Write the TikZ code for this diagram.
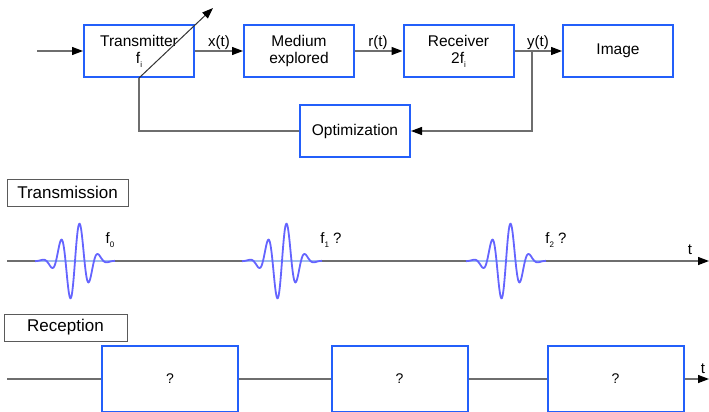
\documentclass[tikz,border=0pt]{standalone}
\usepackage{fontspec}
\setmainfont{Liberation Sans}
\usetikzlibrary{arrows.meta}
\definecolor{boxblue}{RGB}{35,95,250}
\definecolor{wavecol}{RGB}{100,100,255}
\definecolor{basecol}{RGB}{160,190,235}
\definecolor{linegray}{RGB}{110,110,110}
\definecolor{taggray}{RGB}{90,90,90}
\newcommand\sbs[1]{\raisebox{-4pt}{\fontsize{8}{8}\selectfont #1}}
\tikzset{
  blk/.style={draw=boxblue, fill=white, line width=2, minimum width=110, minimum height=52, inner sep=0, align=center, font=\fontsize{15.5}{17}\selectfont},
  rbox/.style={draw=boxblue, fill=white, line width=2, minimum width=136, minimum height=66, inner sep=0, font=\fontsize{14}{16}\selectfont},
  conn/.style={draw=linegray, line width=1.3},
  arr/.style={conn, -{Triangle[length=11,width=8,color=black]}},
  lbl/.style={font=\fontsize{15}{17}\selectfont, inner sep=1},
  tag/.style={draw=taggray, line width=1, inner sep=0, font=\fontsize{17}{20}\selectfont},
  wave/.style={draw=wavecol, line width=1.8},
}
\begin{document}
\begin{tikzpicture}[x=1pt,y=-1pt]
\useasboundingbox (0,0) rectangle (709,412);
% top block diagram
\node[blk] (tx) at (139,51) {Transmitter\\f\sbs{i}};
\node[blk] (med) at (299,51) {Medium\\explored};
\node[blk] (rec) at (458.5,51) {Receiver\\2f\sbs{i}};
\node[blk] (img) at (618,51) {Image};
\node[blk] (opt) at (355,131) {Optimization};
\coordinate (in) at (37,51);
\coordinate (dtip) at (213,8);
\coordinate (ytap) at (532,51);
\draw[arr] (in) -- (tx.west);
\draw[arr] (tx.east) -- (med.west);
\draw[arr] (med.east) -- (rec.west);
\draw[arr] (rec.east) -- (img.west);
\draw[arr, draw=black!80, line width=1] (tx.south) -- (dtip);
\draw[conn] (opt.west) -| (tx.south);
\draw[arr] (ytap) |- (opt.east);
\node[lbl] (lx) at (219,43) {x(t)};
\node[lbl] (lr) at (378,43) {r(t)};
\node[lbl] (ly) at (538,43) {y(t)};
% transmission
\node[tag, minimum width=121, minimum height=27] (ttx) at (67.5,192.5) {Transmission};
\coordinate (ax0) at (7,261);
\coordinate (ax1) at (709,261);
\draw[arr] (ax0) -- (ax1);
\node[lbl] (tlab) at (690,250) {t};
\foreach \c in {75,282,506} {
  \draw[basecol, line width=1.5] (\c-38,261) -- (\c+38,261);
  \draw[wave] plot[domain=-40:40, samples=200, smooth] ({\c+\x}, {261-40*exp(-(\x*\x)/306)*sin(360*(\x)/19)});
}
\node[lbl] (f0) at (110,240) {f\sbs{0}};
\node[lbl] (f1) at (331,240) {f\sbs{1} ?};
\node[lbl] (f2) at (556,240) {f\sbs{2} ?};
% reception
\node[tag, minimum width=123, minimum height=27] (trx) at (65.5,327.5) {Reception};
\node[rbox] (rb1) at (170,379) {?};
\node[rbox] (rb2) at (399.5,379) {?};
\node[rbox] (rb3) at (615.5,379) {?};
\coordinate (r0) at (7,379);
\coordinate (r1) at (709,379);
\draw[conn] (r0) -- (rb1.west);
\draw[conn] (rb1.east) -- (rb2.west);
\draw[conn] (rb2.east) -- (rb3.west);
\draw[arr] (rb3.east) -- (r1);
\node[lbl] (tlab2) at (703,369) {t};
\end{tikzpicture}
\end{document}
